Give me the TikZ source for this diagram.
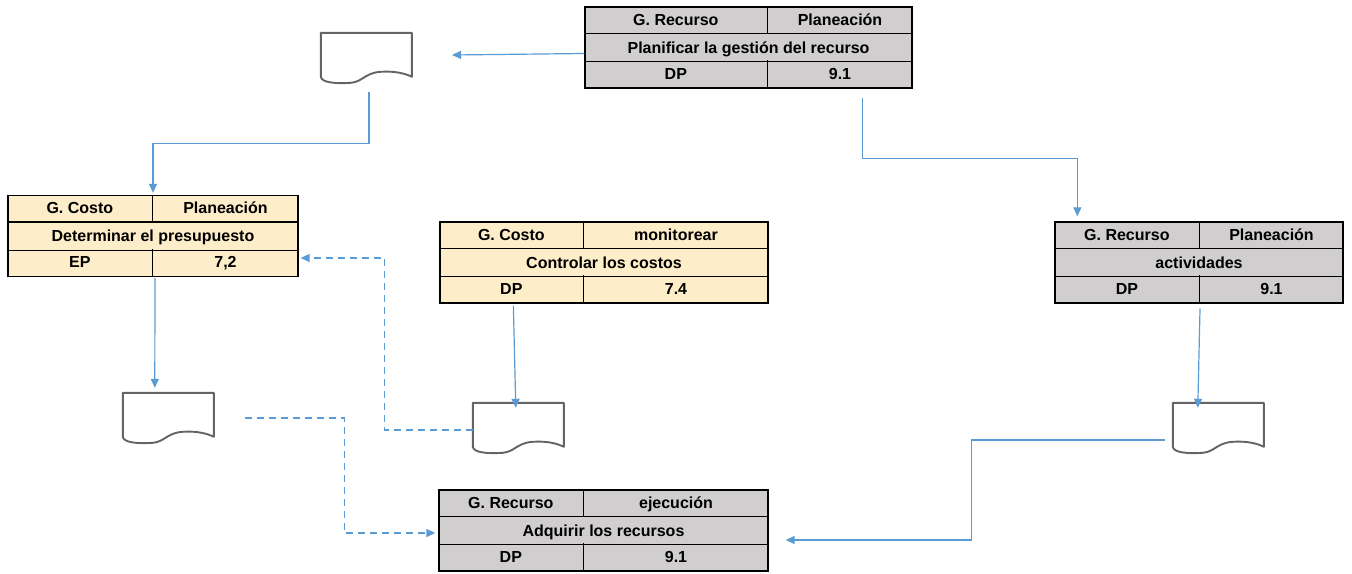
\documentclass[tikz,border=0pt]{standalone}
\usepackage{fontspec}
\setmainfont{Liberation Sans}
\usetikzlibrary{calc,arrows.meta}
\definecolor{cellgray}{RGB}{208,206,206}
\definecolor{cellcream}{RGB}{253,237,200}
\definecolor{flowblue}{RGB}{91,155,213}
\definecolor{docgray}{RGB}{100,100,100}
\tikzset{
  tbl/.style={draw=black, line width=1.3pt, minimum height=81pt, inner sep=0pt},
  graytbl/.style={fill=cellgray},
  creamtbl/.style={fill=cellcream},
  grid/.style={draw=black, line width=1.3pt},
  cell/.style={font=\fontsize{16}{18}\selectfont\bfseries, text height=14pt,
    text depth=3pt, inner sep=0pt, anchor=center},
  docbox/.style={minimum width=91pt, minimum height=50pt, inner sep=0pt},
  docline/.style={draw=docgray, line width=1.9pt, line join=round},
  flow/.style={draw=flowblue, line width=1.2pt, -{Triangle[length=9pt,width=8pt]}},
  dashflow/.style={flow, dash pattern=on 7pt off 5pt},
}
% three-row process table: name, centre, style, left column width,
% header left, header right, title, code, number
\newcommand\ptable[9]{%
  \node[tbl,#3] (#1) at (#2) {};
  \coordinate (#1-d) at ($(#1.north west)+(#4,0)$);
  \draw[grid] ($(#1.north west)+(0,27)$) -- ($(#1.north east)+(0,27)$);
  \draw[grid] ($(#1.south west)+(0,-27)$) -- ($(#1.south east)+(0,-27)$);
  \draw[grid] (#1-d) -- ++(0,27);
  \draw[grid] ($(#1-d)+(0,54)$) -- ++(0,27);
  \node[cell] (#1-a) at ($(#1.north west)+(#4/2,13.5)$) {#5};
  \node[cell] (#1-b) at ($(#1-d)!0.5!(#1.north east)+(0,13.5)$) {#6};
  \node[cell] (#1-c) at (#1.center) {#7};
  \node[cell] (#1-e) at ($(#1.north west)+(#4/2,67.5)$) {#8};
  \node[cell] (#1-f) at ($(#1-d)!0.5!(#1.north east)+(0,67.5)$) {#9};
}
% document symbol with wavy lower edge
\newcommand\docsym[2]{%
  \node[docbox] (#1) at (#2) {};
  \begin{scope}[shift={(#1.north west)}]
    \draw[docline] (0,44) .. controls (1,50) and (15,51) .. (30,50)
      .. controls (42,49) and (44,40) .. (60,39)
      .. controls (75,38) and (85,41) .. (91,44) -- (91,0) -- (0,0) -- cycle;
  \end{scope}
}
\begin{document}
\begin{tikzpicture}[x=1pt,y=-1pt]
\useasboundingbox (0,0) rectangle (1352,573);

\ptable{t1}{748.5,47.5}{graytbl,minimum width=327pt}{183}{G. Recurso}{Planeación}{Planificar la gestión del recurso}{DP}{9.1}
\ptable{t2}{153,236}{creamtbl,minimum width=290pt}{145}{G. Costo}{Planeación}{Determinar el presupuesto}{EP}{7,2}
\ptable{t3}{604,262.5}{creamtbl,minimum width=328pt}{144}{G. Costo}{monitorear}{Controlar los costos}{DP}{7.4}
\ptable{t4}{1199,262.5}{graytbl,minimum width=288pt}{145}{G. Recurso}{Planeación}{actividades}{DP}{9.1}
\ptable{t5}{603.5,530.5}{graytbl,minimum width=329pt}{145}{G. Recurso}{ejecución}{Adquirir los recursos}{DP}{9.1}

\docsym{d1}{366.5,58}
\docsym{d2}{168.5,418}
\docsym{d3}{518.5,428}
\docsym{d4}{1218.5,428}

% connectors
\coordinate (c1end) at (452,55);
\draw[flow] ($(t1.west)+(0,6)$) -- (c1end);
\draw[flow] ($(d1.south)+(2.5,9)$) -- ++(0,51) -| ($(t2.north)+(0,-2)$);
\draw[flow] ($(t2.south)+(2,1)$) -- ($(d2.north west)+(32,-5)$);
\draw[dashflow] ($(d2.east)+(31,0)$) -- ++(99,0) |- ($(t5.west)+(-3,2.5)$);
\draw[dashflow] ($(d3.west)+(0,2)$) -- ++(-88,0) |- ($(t2.east)+(2,22)$);
\draw[flow] ($(t3.south west)+(74,2)$) -- ($(d3.north west)+(43,5)$);
\draw[flow] ($(t1.south east)+(-50,9)$) -- ++(0,61) -| ($(t4.north west)+(23,-5)$);
\draw[flow] ($(t4.south)+(1,5)$) -- ($(d4.north west)+(25,5)$);
\draw[flow] ($(d4.west)+(-8,12)$) -- ++(-193,0) |- ($(t5.east)+(17,9.5)$);
\end{tikzpicture}
\end{document}
